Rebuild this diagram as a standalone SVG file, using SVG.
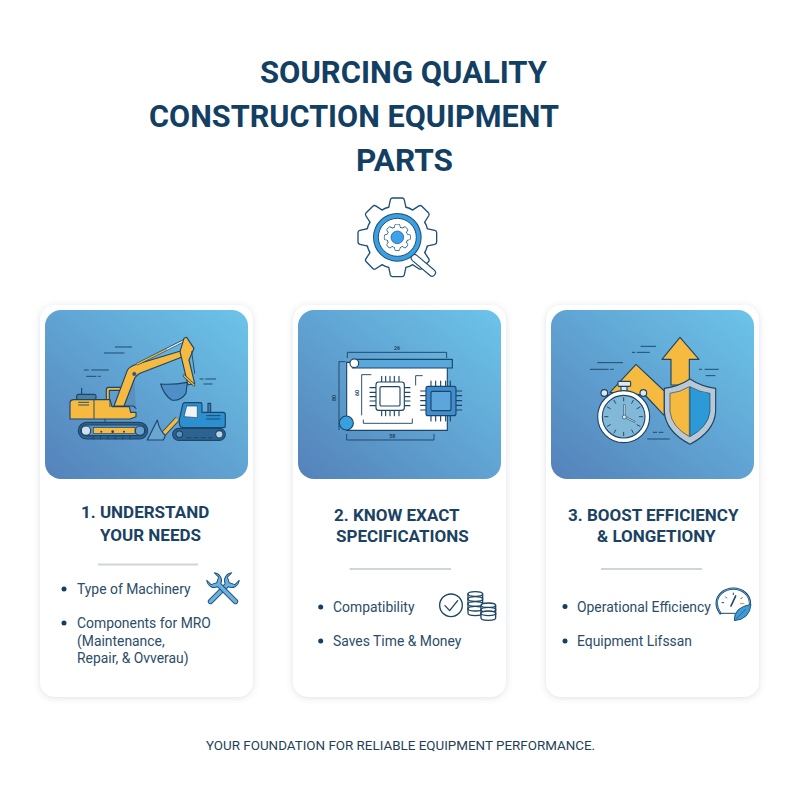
<svg xmlns="http://www.w3.org/2000/svg" xmlns:xlink="http://www.w3.org/1999/xlink" width="800" height="800" viewBox="0 0 800 800">
<style>
text{font-family:Roboto,"Liberation Sans",sans-serif}
.t{font-size:31px;font-weight:700;fill:#123f63}
.h{font-size:17px;font-weight:700;fill:#1a4263}
.b{font-size:13.9px;fill:#2b4d68}
.f{font-size:13.4px;fill:#1f3f58}
.d{font-size:16px;font-weight:700;fill:#1c4566;text-anchor:middle}
.card{fill:#fff;filter:url(#sh)}
.rule{stroke:#cfd6db;stroke-width:2}
.dot{fill:#123f63}
.ink{stroke:#1c4566;stroke-width:3.4;stroke-linejoin:round;stroke-linecap:round}
.ln{stroke:#1c4566;stroke-width:3.4;stroke-linecap:round;fill:none}
.th{stroke:#1c4566;stroke-width:2.8;stroke-linecap:round;fill:none}
.y{fill:#f6ba41}
.bl{fill:#2b8fd0}
.ic{stroke:#1c4566;stroke-width:1.3;fill:none;stroke-linecap:round;stroke-linejoin:round}
</style>
<defs>
<linearGradient id="g" x1="1" y1="0" x2="0" y2="1"><stop offset="0" stop-color="#6cc4ea"/><stop offset="1" stop-color="#5482ba"/></linearGradient>
<filter id="sh" x="-10%" y="-10%" width="120%" height="120%"><feDropShadow dx="0" dy="1" stdDeviation="3" flood-color="#5a7080" flood-opacity=".22"/></filter>
<path id="tooth" d="M-25 -84 L-19 -112 Q-18 -116 -14 -116 H14 Q18 -116 19 -112 L25 -84 Z"/>
<path id="wr" d="M-5 40 V-12 C-16 -16 -20 -30 -12 -40 V-26 L0 -20 L12 -26 V-40 C20 -30 16 -16 5 -12 V40 A5 5 0 0 1 -5 40 Z"/>
<g id="teeth"><use xlink:href="#tooth"/><use xlink:href="#tooth" transform="rotate(45)"/><use xlink:href="#tooth" transform="rotate(90)"/><use xlink:href="#tooth" transform="rotate(135)"/><use xlink:href="#tooth" transform="rotate(180)"/><use xlink:href="#tooth" transform="rotate(225)"/><use xlink:href="#tooth" transform="rotate(270)"/><use xlink:href="#tooth" transform="rotate(315)"/><circle r="92"/></g>
<g id="coin"><path d="M-22 -6 A22 7 0 0 1 22 -6 V8 A22 7 0 0 1 -22 8 Z" fill="#fff"/><path d="M-22 -6 A22 7 0 0 0 22 -6"/></g>
</defs>
<rect width="800" height="800" fill="#fff"/>
<g id="title">
<text class="t" x="260" y="83" textLength="287" lengthAdjust="spacingAndGlyphs">SOURCING QUALITY</text>
<text class="t" x="149" y="127" textLength="410" lengthAdjust="spacingAndGlyphs">CONSTRUCTION EQUIPMENT</text>
<text class="t" x="356" y="171" textLength="97" lengthAdjust="spacingAndGlyphs">PARTS</text>
</g>
<g id="gear-icon" transform="translate(340,190) scale(.3333)">
<g transform="translate(172,142)">
<use xlink:href="#teeth" fill="none" stroke="#1c4f78" stroke-width="8"/>
<use xlink:href="#teeth" fill="#fff"/>
</g>
<path d="M224 204 L276 248" stroke="#1c4f78" stroke-width="24" stroke-linecap="round"/>
<path d="M224 204 L276 248" stroke="#fff" stroke-width="17" stroke-linecap="round"/>
<circle cx="172" cy="142" r="73" fill="#1c4f78"/>
<circle cx="172" cy="142" r="70" fill="#3c9fe0"/>
<circle cx="172" cy="142" r="57" fill="#fff" stroke="#1c4f78" stroke-width="3"/>
<g transform="translate(172,142) scale(.33)">
<use xlink:href="#teeth" fill="none" stroke="#1c4f78" stroke-width="12"/>
<use xlink:href="#teeth" fill="#fff"/>
</g>
<circle cx="172" cy="142" r="19" fill="#3ca3ea" stroke="#1c4f78" stroke-width="2"/>
</g>

<g id="card-1">
<rect class="card" x="40" y="305" width="213" height="392" rx="15"/>
<rect x="45" y="310" width="203" height="169" rx="16" fill="url(#g)"/>
<g transform="translate(40,305) scale(.3333)">
<path class="th" d="M226 126H275M193 144H252M133 195H145M155 195H205M140 214H168M175 214H181M480 222H490M497 222H527M492 237H516"/>
<rect class="ink" x="115" y="352" width="208" height="50" rx="25" fill="#2d6390"/>
<rect class="ink" x="122" y="360" width="194" height="32" rx="16" fill="#5b92bd"/>
<rect x="160" y="368" width="125" height="18" fill="#f6ba41" stroke="#1c4566" stroke-width="2"/>
<circle class="ink" cx="138" cy="377" r="14" fill="#cfe0ea"/>
<circle class="ink" cx="300" cy="377" r="14" fill="#6aa2cc"/>
<circle cx="184" cy="380" r="3" fill="#1c4566"/><circle cx="218" cy="380" r="4" fill="#1c4566"/><circle cx="252" cy="380" r="3" fill="#1c4566"/>
<path class="th" d="M160 392V402M182 392V402M204 392V402M226 392V402M248 392V402M270 392V402M195 342V352"/>
<path class="ink" d="M199 285V254Q199 247 206 247H242V256H208V285Z" fill="#f6ba41"/>
<rect class="ink" x="110" y="268" width="58" height="16" rx="6" fill="#4a7fa8"/>
<path class="ln" d="M125 268V250"/>
<path class="ink y" d="M90 342V292Q92 284 102 284H210L216 305H268L272 322H288V335L270 342Z"/>
<path class="th" d="M116 292H146M116 300H146M162 285V340M210 285V305"/>
<path class="ink" d="M282 205L250 303H280L288 310" fill="#5b92bd"/>
<path class="ink y" d="M222 303L262 196Q268 185 290 178L432 135L436 152L300 205Q290 210 284 220L252 303Z"/>
<path d="M290 178L435 105" stroke="#1c4566" stroke-width="8"/>
<path d="M380 133L432 107" stroke="#e6eef3" stroke-width="4"/>
<path d="M290 178L380 133" stroke="#f6ba41" stroke-width="4"/>
<path class="ink y" d="M432 100L440 97L462 130L447 165L464 235L444 240L420 140Z"/>
<path class="th" d="M455 140L464 205"/>
<circle cx="283" cy="207" r="5" fill="#2d6390" stroke="#1c4566" stroke-width="2"/>
<path d="M432 212L462 240" stroke="#1c4566" stroke-width="8" stroke-linecap="round"/>
<path d="M432 212L462 240" stroke="#f6ba41" stroke-width="4" stroke-linecap="round"/>
<path class="ink" d="M362 237Q400 240 442 232L438 265Q420 290 395 285Q372 270 362 237Z" fill="#4f8fc8"/>
<path d="M372 385L412 342" stroke="#1c4566" stroke-width="16"/>
<path d="M372 385L412 342" stroke="#f6ba41" stroke-width="11"/>
<path class="ink" d="M352 345L322 405H370L376 392Q358 375 352 345Z" fill="#6aa6d0"/>
<rect class="ink" x="398" y="370" width="158" height="36" rx="18" fill="#2d6390"/>
<circle class="ink" cx="538" cy="388" r="11" fill="#b9d2e2"/>
<circle class="ink" cx="418" cy="388" r="10" fill="#5b92bd"/>
<path class="th" d="M440 398H452M462 398H474M484 398H496M506 398H516"/>
<path class="ink bl" d="M418 345L428 298Q430 293 436 293H482Q486 293 486 300V322H550Q556 322 556 330V362Q556 368 548 368H430Q420 368 418 355Z"/>
<path d="M432 335L440 303H472V338Z" fill="#eef3f6" stroke="#1c4566" stroke-width="2"/>
<rect class="ink" x="504" y="295" width="8" height="27" fill="#4a7fa8"/>
<path class="th" d="M500 332H540M500 342H540"/>
</g>
<text class="h" x="81" y="518">1. UNDERSTAND</text>
<text class="h" x="100" y="541">YOUR NEEDS</text>
<line class="rule" x1="98" y1="564.5" x2="198" y2="564.5"/>
<circle class="dot" cx="64" cy="589" r="2.5"/>
<text class="b" x="77" y="594">Type of Machinery</text>
<circle class="dot" cx="64" cy="623" r="2.5"/>
<text class="b" x="77" y="628">Components for MRO</text>
<text class="b" x="77" y="646">(Maintenance,</text>
<text class="b" x="77" y="663">Repair, &amp; Ovverau)</text>
<g transform="translate(223,589) scale(.34)" fill="#6fb0de" stroke="#1c5580" stroke-width="2.2" stroke-linejoin="round">
<use xlink:href="#wr" transform="rotate(45) scale(1.3)"/>
<use xlink:href="#wr" transform="rotate(-45) scale(1.3)"/>
</g>
</g>

<g id="card-2">
<rect class="card" x="293" y="305" width="213" height="392" rx="15"/>
<rect x="298" y="310" width="203" height="169" rx="16" fill="url(#g)"/>
<g transform="translate(295,305) scale(.3333)">
<path d="M155 172H457V376H155Z" fill="#fff" stroke="#1c4566" stroke-width="3.4"/>
<rect class="ink" x="172" y="163" width="300" height="26" fill="#58a8dc"/>
<circle class="ink" cx="178" cy="175" r="13" fill="#fff"/>
<path class="th" d="M157 158V142H455V158M150 170H132V374M155 388V405H417V388M228 209H200V330M205 345V355H352V342M382 212H362V240"/>
<text class="d" x="306" y="135">26</text>
<text class="d" x="292" y="398">58</text>
<text class="d" transform="translate(124,279) rotate(-90)">80</text>
<text class="d" transform="translate(193,264) rotate(-90)">60</text>
<circle class="ink" cx="154" cy="354" r="21" fill="#36a0e0"/>
<path class="ln" d="M260 214V231M272 214V231M285 214V231M298 214V231M312 214V231M260 316V332M272 316V332M285 316V332M298 316V332M312 316V332M225 248H243M225 262H243M225 275H243M225 288H243M225 302H243M328 248H345M328 262H345M328 275H345M328 288H345M328 302H345"/>
<rect class="ink" x="243" y="231" width="85" height="85" rx="8" fill="#fff"/>
<rect class="ink" x="255" y="245" width="60" height="58" rx="4" fill="#fff"/>
<path class="ln" d="M408 228V244M422 228V244M437 228V244M452 228V244M466 228V244M408 332V348M422 332V348M437 332V348M452 332V348M466 332V348M377 258H393M377 272H393M377 287H393M377 301H393M377 315H393M483 258H500M483 272H500M483 287H500M483 301H500M483 315H500"/>
<rect class="ink" x="393" y="244" width="90" height="88" rx="6" fill="#3f8ed0"/>
<rect class="ink" x="408" y="259" width="60" height="58" rx="4" fill="#5da6dc"/>
</g>
<text class="h" x="334" y="521">2. KNOW EXACT</text>
<text class="h" x="336" y="542">SPECIFICATIONS</text>
<line class="rule" x1="349.6" y1="569" x2="451" y2="569"/>
<circle class="dot" cx="320.7" cy="607" r="2.5"/>
<text class="b" x="333" y="612">Compatibility</text>
<circle class="dot" cx="320.7" cy="641" r="2.5"/>
<text class="b" x="333" y="646">Saves Time &amp; Money</text>
<g transform="translate(295,490) scale(.3333)" class="ic" style="stroke-width:4">
<circle cx="468" cy="346" r="34"/>
<path d="M450 347L464 362L488 332"/>
<use xlink:href="#coin" transform="translate(541,318)"/>
<use xlink:href="#coin" transform="translate(541,333)"/>
<use xlink:href="#coin" transform="translate(541,348)"/>
<use xlink:href="#coin" transform="translate(541,362)"/>
<use xlink:href="#coin" transform="translate(580,352)"/>
<use xlink:href="#coin" transform="translate(580,365)"/>
<use xlink:href="#coin" transform="translate(580,376)"/>
</g>
</g>

<g id="card-3">
<rect class="card" x="546" y="305" width="213" height="392" rx="15"/>
<rect x="551" y="310" width="203" height="169" rx="16" fill="url(#g)"/>
<g transform="translate(545,305) scale(.3333)">
<path class="th" d="M288 124H332M262 142H270M277 142H313M158 173H233M136 193H190M197 193H205M463 193H470M480 193H520M483 212H510M325 382H335M342 382H354M308 402H373"/>
<path class="ink y" d="M195 262L273 178L358 258V332L300 270Z"/>
<path class="ink y" d="M405 97L462 163H433V240H378V163H351Z"/>
<path class="ink" d="M435 222Q400 245 358 250V320Q362 380 435 418Q508 380 512 320V250Q470 245 435 222Z" fill="#b9c8d4"/>
<path d="M433 245Q405 262 375 265V320Q380 365 433 395Z" fill="#f6ba41" stroke="#1c4566" stroke-width="2"/>
<path d="M435 245Q465 262 495 265V320Q490 365 435 395Z" fill="#2c9ad6" stroke="#1c4566" stroke-width="2"/>
<rect class="ink" x="228" y="243" width="18" height="16" fill="#dfe8ee"/>
<rect class="ink" x="219" y="229" width="38" height="15" rx="3" fill="#dfe8ee"/>
<path d="M190 272L178 264M283 272L295 264" stroke="#1c4566" stroke-width="6"/>
<circle class="ink" cx="178" cy="264" r="10" fill="#dfe8ee"/>
<circle class="ink" cx="295" cy="264" r="10" fill="#dfe8ee"/>
<circle class="ink" cx="236" cy="335" r="78" fill="#fff"/>
<circle class="ink" cx="236" cy="335" r="64" fill="#82b8d8"/>
<g class="th">
<path d="M236 278V288M236 382V392M179 335H189M283 335H293M207 286L212 295M265 286L260 295M187 306L196 311M285 306L276 311M187 364L196 359M285 364L276 359M207 384L212 375M265 384L260 375"/>
</g>
<path d="M238 335V300M238 335L268 350" stroke="#1c4566" stroke-width="6" stroke-linecap="round"/>
<path d="M238 335V300M238 335L268 350" stroke="#fff" stroke-width="2.5" stroke-linecap="round"/>
<circle cx="238" cy="336" r="6" fill="#dfe8ee" stroke="#1c4566" stroke-width="2"/>
</g>
<text class="h" x="568" y="521">3. BOOST EFFICIENCY</text>
<text class="h" x="597" y="542">&amp; LONGETIONY</text>
<line class="rule" x1="601" y1="569" x2="702" y2="569"/>
<circle class="dot" cx="565" cy="606.5" r="2.5"/>
<text class="b" x="577" y="612">Operational Efficiency</text>
<circle class="dot" cx="565" cy="641" r="2.5"/>
<text class="b" x="577" y="646">Equipment Lifssan</text>
<g transform="translate(545,490) scale(.3333)">
<path d="M526 370Q515 355 515 340A50 44 0 0 1 615 340" fill="none" stroke="#1c4566" stroke-width="7" stroke-linecap="round"/>
<path d="M526 370Q515 355 515 340A50 44 0 0 1 615 340" fill="none" stroke="#5ba3d8" stroke-width="3" stroke-linecap="round"/>
<path d="M526 370H575" stroke="#1c4566" stroke-width="3"/>
<path d="M558 348L572 318" stroke="#1c4566" stroke-width="5" stroke-linecap="round"/>
<path d="M530 338H537M541 320L546 325M565 308V315M592 322L587 327" stroke="#1c4566" stroke-width="3"/>
<path d="M585 341H598" stroke="#e8893a" stroke-width="3"/>
<path d="M568 392Q566 352 618 343Q614 388 568 392Z" fill="#3f9bd6" stroke="#1c5580" stroke-width="3" stroke-linejoin="round"/>
<path d="M572 388L602 358" stroke="#1c5580" stroke-width="2"/>
</g>
</g>
<text id="footer" class="f" x="206" y="750">YOUR FOUNDATION FOR RELIABLE EQUIPMENT PERFORMANCE.</text>
</svg>
